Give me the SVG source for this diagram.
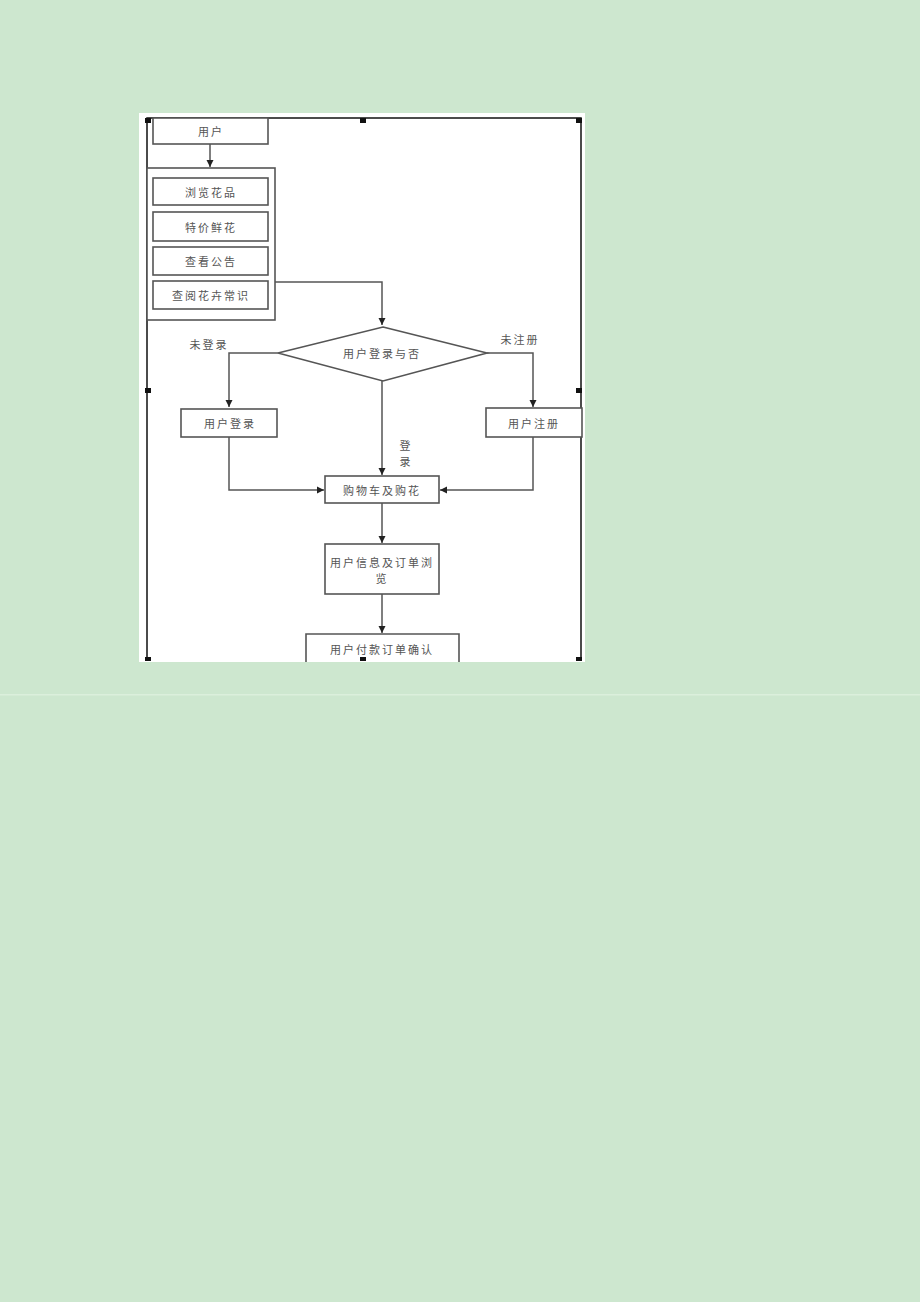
<svg xmlns="http://www.w3.org/2000/svg" width="920" height="1302" viewBox="0 0 920 1302">
<defs>
<marker id="ah" markerWidth="8" markerHeight="8" refX="7" refY="4" orient="auto" markerUnits="userSpaceOnUse">
<path d="M0,0.5 L7,4 L0,7.5 Z" fill="#222"/>
</marker>
<style>
.box{fill:#fff;stroke:#555;stroke-width:1.6}
.frame{fill:none;stroke:#111;stroke-width:1.5}
.con{fill:none;stroke:#555;stroke-width:1.5}
.t{font-family:"Noto Sans CJK SC","Liberation Serif",serif;font-size:11px;fill:#555;letter-spacing:2px;text-anchor:middle;dominant-baseline:central}
.h{fill:#111}
</style>
</defs>
<rect x="0" y="0" width="920" height="1302" fill="#cde7cf"/>
<rect x="0" y="694" width="920" height="1.5" fill="#dbefdc"/>
<rect x="139" y="113" width="446" height="549" fill="#fff"/>
<g id="frame">
<path class="frame" d="M147,660 V118 H581 V660"/>
</g>
<g id="connectors">
<path class="con" d="M210,144 V167" marker-end="url(#ah)"/>
<path class="con" d="M275,282 H382 V325" marker-end="url(#ah)"/>
<path class="con" d="M278,353 H229 V407" marker-end="url(#ah)"/>
<path class="con" d="M487,353 H533 V407" marker-end="url(#ah)"/>
<path class="con" d="M382,381 V475" marker-end="url(#ah)"/>
<path class="con" d="M229,437 V490 H324" marker-end="url(#ah)"/>
<path class="con" d="M533,437 V490 H440" marker-end="url(#ah)"/>
<path class="con" d="M382,503 V543" marker-end="url(#ah)"/>
<path class="con" d="M382,594 V633" marker-end="url(#ah)"/>
</g>
<g id="user">
<rect class="box" x="153" y="118" width="115" height="26"/>
<text class="t" x="211" y="131">用户</text>
</g>
<g id="menu">
<rect class="box" x="147" y="168" width="128" height="152"/>
</g>
<g id="browse">
<rect class="box" x="153" y="178" width="115" height="27"/>
<text class="t" x="211" y="191.5">浏览花品</text>
</g>
<g id="special">
<rect class="box" x="153" y="212" width="115" height="29"/>
<text class="t" x="211" y="226.5">特价鲜花</text>
</g>
<g id="notice">
<rect class="box" x="153" y="247" width="115" height="28"/>
<text class="t" x="211" y="261">查看公告</text>
</g>
<g id="knowledge">
<rect class="box" x="153" y="281" width="115" height="28"/>
<text class="t" x="211" y="295">查阅花卉常识</text>
</g>
<g id="decision">
<polygon class="box" points="383,327 487,353 383,381 278,353"/>
<text class="t" x="382" y="353">用户登录与否</text>
</g>
<g id="labels">
<text class="t" x="209" y="344">未登录</text>
<text class="t" x="520" y="339">未注册</text>
<text class="t" x="406" y="445">登</text>
<text class="t" x="406" y="461">录</text>
</g>
<g id="login">
<rect class="box" x="181" y="409" width="96" height="28"/>
<text class="t" x="230" y="423">用户登录</text>
</g>
<g id="register">
<rect class="box" x="486" y="408" width="96" height="29"/>
<text class="t" x="534" y="422.5">用户注册</text>
</g>
<g id="cart">
<rect class="box" x="325" y="476" width="114" height="27"/>
<text class="t" x="382" y="489.5">购物车及购花</text>
</g>
<g id="info">
<rect class="box" x="325" y="544" width="114" height="50"/>
<text class="t" x="382" y="562">用户信息及订单浏</text>
<text class="t" x="382" y="578">览</text>
</g>
<g id="pay">
<path class="box" d="M306,662 V634 H459 V662"/>
<text class="t" x="382" y="649">用户付款订单确认</text>
</g>
<g id="handles">
<rect class="h" x="145" y="118" width="6" height="5"/>
<rect class="h" x="360" y="118" width="6" height="5"/>
<rect class="h" x="576" y="118" width="6" height="5"/>
<rect class="h" x="145" y="388" width="6" height="5"/>
<rect class="h" x="576" y="388" width="6" height="5"/>
<rect class="h" x="145" y="657" width="6" height="4"/>
<rect class="h" x="360" y="657" width="6" height="4"/>
<rect class="h" x="576" y="657" width="6" height="4"/>
</g>
</svg>
